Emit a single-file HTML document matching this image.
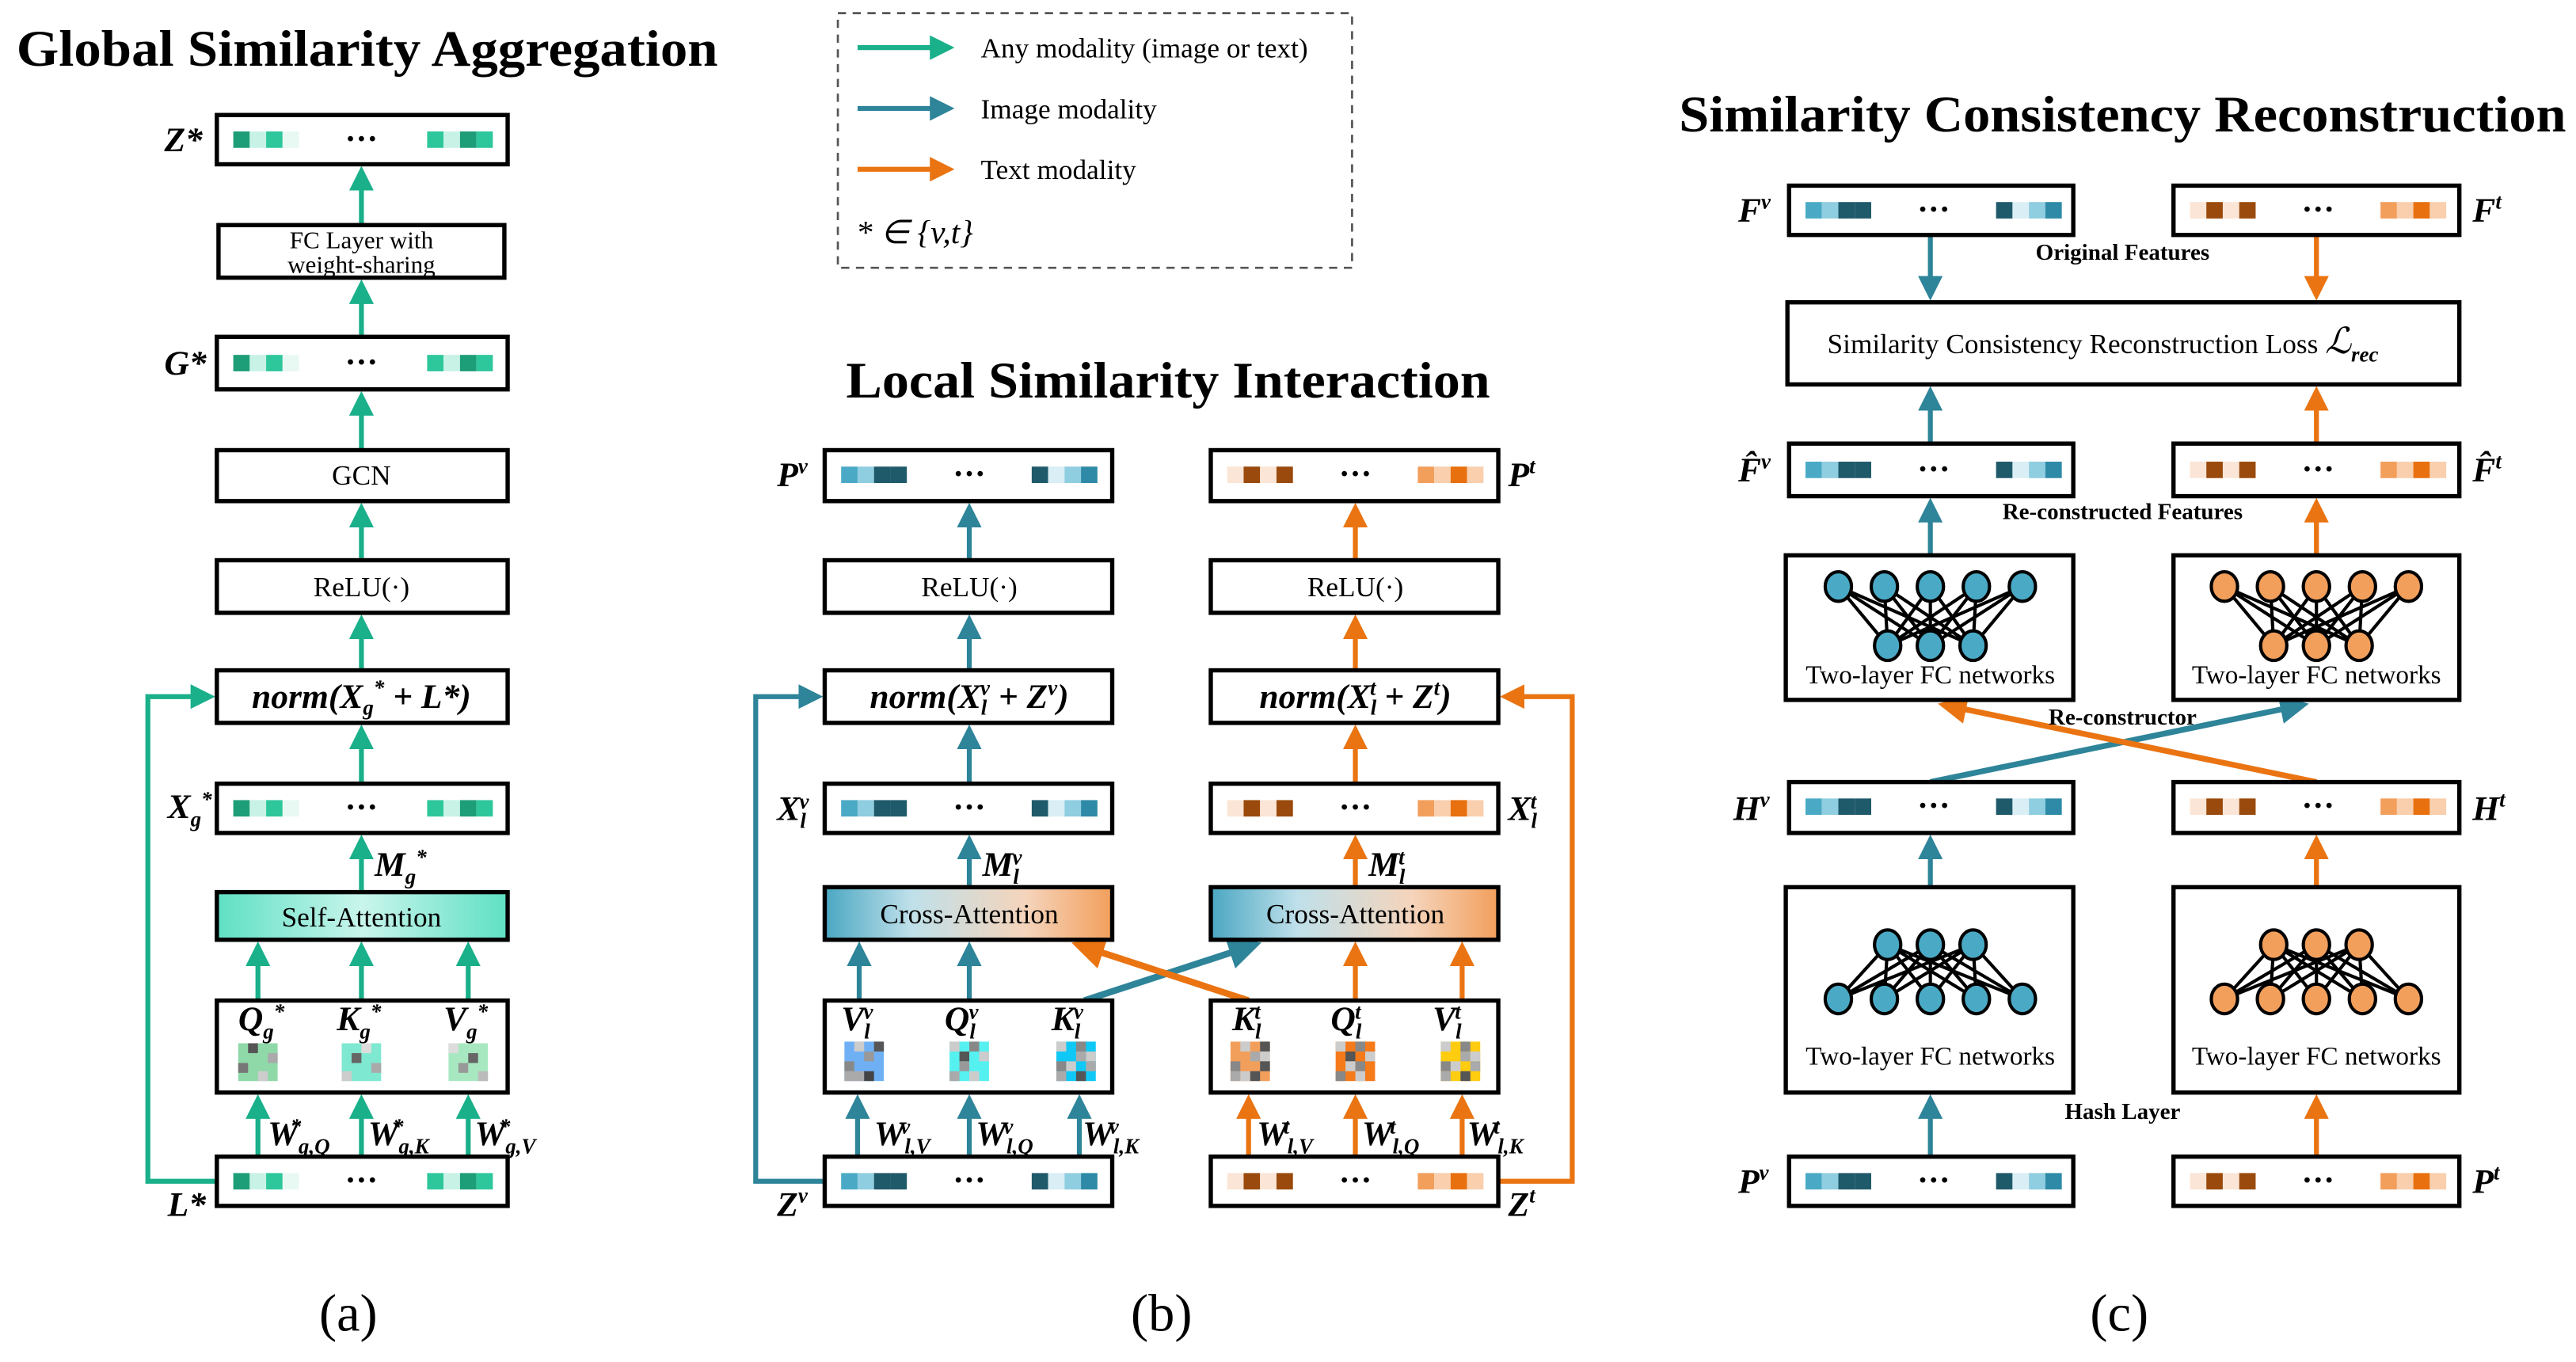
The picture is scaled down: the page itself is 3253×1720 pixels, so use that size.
<!DOCTYPE html>
<html><head><meta charset="utf-8"><style>
html,body{margin:0;padding:0;background:#fff}
svg{display:block}
text{font-family:"Liberation Serif",serif}
.b{fill:#fff;stroke:#000;stroke-width:2.6}
.t{font-size:17px;text-anchor:middle}
.m{font-size:21px;font-weight:bold;font-style:italic}
.s{font-size:13px;font-weight:bold;font-style:italic}
.h{font-size:31px;font-weight:bold}
.c{font-size:32px;text-anchor:middle}
.lb{font-size:14px;font-weight:bold;text-anchor:middle}
.dots{font-size:20px;text-anchor:middle;font-weight:bold}
</style></head><body>
<svg width="3253" height="1720" viewBox="0 0 1568 829" preserveAspectRatio="none" xmlns="http://www.w3.org/2000/svg">
<defs>
<marker id="ag" markerWidth="5" markerHeight="5" refX="4" refY="2.5" orient="auto" markerUnits="strokeWidth"><path d="M0,0 L5,2.5 L0,5 z" fill="#19b08a"/></marker>
<marker id="ab" markerWidth="5" markerHeight="5" refX="4" refY="2.5" orient="auto" markerUnits="strokeWidth"><path d="M0,0 L5,2.5 L0,5 z" fill="#2e8499"/></marker>
<marker id="ao" markerWidth="5" markerHeight="5" refX="4" refY="2.5" orient="auto" markerUnits="strokeWidth"><path d="M0,0 L5,2.5 L0,5 z" fill="#ea7412"/></marker>
<g id="vt"><rect x="10" y="10" width="10" height="10" fill="#1e9e78"/><rect x="20" y="10" width="10" height="10" fill="#c8f2e6"/><rect x="30" y="10" width="10" height="10" fill="#2ec79c"/><rect x="40" y="10" width="10" height="10" fill="#e8f9f4"/><rect x="128" y="10" width="10" height="10" fill="#2ec79c"/><rect x="138" y="10" width="10" height="10" fill="#c8f2e6"/><rect x="148" y="10" width="10" height="10" fill="#1e9e78"/><rect x="158" y="10" width="10" height="10" fill="#2ec79c"/><text x="88" y="21" class="dots">···</text></g>
<g id="vb"><rect x="10" y="10" width="10" height="10" fill="#4aaac6"/><rect x="20" y="10" width="10" height="10" fill="#8fcde0"/><rect x="30" y="10" width="10" height="10" fill="#1f5a6b"/><rect x="40" y="10" width="10" height="10" fill="#1f5a6b"/><rect x="126" y="10" width="10" height="10" fill="#1f5a6b"/><rect x="136" y="10" width="10" height="10" fill="#d9eef5"/><rect x="146" y="10" width="10" height="10" fill="#8fcde0"/><rect x="156" y="10" width="10" height="10" fill="#2e8aa6"/><text x="88" y="21" class="dots">···</text></g>
<g id="vo"><rect x="10" y="10" width="10" height="10" fill="#fbe5d6"/><rect x="20" y="10" width="10" height="10" fill="#9a4a0c"/><rect x="30" y="10" width="10" height="10" fill="#fbe5d6"/><rect x="40" y="10" width="10" height="10" fill="#9a4a0c"/><rect x="126" y="10" width="10" height="10" fill="#f29f5c"/><rect x="136" y="10" width="10" height="10" fill="#f9cfad"/><rect x="146" y="10" width="10" height="10" fill="#e8700f"/><rect x="156" y="10" width="10" height="10" fill="#f9cfad"/><text x="88" y="21" class="dots">···</text></g>
<linearGradient id="sa" x1="0" x2="1"><stop offset="0" stop-color="#5fe0c4"/><stop offset="0.5" stop-color="#c9f5ec"/><stop offset="1" stop-color="#5fe0c4"/></linearGradient>
<linearGradient id="ca" x1="0" x2="1"><stop offset="0" stop-color="#4aa7c2"/><stop offset="0.3" stop-color="#bfe0ea"/><stop offset="0.7" stop-color="#f5d4bb"/><stop offset="1" stop-color="#f29f5c"/></linearGradient>
</defs>

<!-- ===== Panel (a) ===== -->
<text x="10" y="40" class="h" textLength="427" lengthAdjust="spacingAndGlyphs">Global Similarity Aggregation</text>
<g stroke="#19b08a" stroke-width="3" fill="none">
<line x1="220" y1="137" x2="220" y2="104" marker-end="url(#ag)"/>
<line x1="220" y1="205" x2="220" y2="173" marker-end="url(#ag)"/>
<line x1="220" y1="274" x2="220" y2="241" marker-end="url(#ag)"/>
<line x1="220" y1="341" x2="220" y2="309" marker-end="url(#ag)"/>
<line x1="220" y1="408" x2="220" y2="377" marker-end="url(#ag)"/>
<line x1="220" y1="477" x2="220" y2="444" marker-end="url(#ag)"/>
<line x1="220" y1="543" x2="220" y2="511" marker-end="url(#ag)"/>
<line x1="157" y1="609" x2="157" y2="576" marker-end="url(#ag)"/>
<line x1="220" y1="609" x2="220" y2="576" marker-end="url(#ag)"/>
<line x1="285" y1="609" x2="285" y2="576" marker-end="url(#ag)"/>
<line x1="157" y1="704" x2="157" y2="669" marker-end="url(#ag)"/>
<line x1="220" y1="704" x2="220" y2="669" marker-end="url(#ag)"/>
<line x1="285" y1="704" x2="285" y2="669" marker-end="url(#ag)"/>
<polyline points="132,719 90,719 90,424 128,424" marker-end="url(#ag)"/>
</g>
<rect class="b" x="132" y="70" width="177" height="30"/><use href="#vt" x="132" y="70"/>
<rect class="b" x="133" y="137" width="174" height="32"/>
<text x="220" y="151" class="t" style="font-size:15px">FC Layer with</text><text x="220" y="166" class="t" style="font-size:15px">weight-sharing</text>
<rect class="b" x="132" y="205" width="177" height="32"/><use href="#vt" x="132" y="206"/>
<rect class="b" x="132" y="274" width="177" height="31"/><text x="220" y="295" class="t">GCN</text>
<rect class="b" x="132" y="341" width="177" height="32"/><text x="220" y="363" class="t">ReLU(·)</text>
<rect class="b" x="132" y="408" width="177" height="32"/><text x="220" y="431" class="m" text-anchor="middle">norm(X<tspan class="s" dy="4">g</tspan><tspan class="s" dy="-12">*</tspan><tspan dy="8"> + L*)</tspan></text>
<rect class="b" x="132" y="477" width="177" height="30"/><use href="#vt" x="132" y="477"/>
<rect x="132" y="543" width="177" height="29" fill="url(#sa)" stroke="#000" stroke-width="2.6"/><text x="220" y="564" class="t">Self-Attention</text>
<rect class="b" x="132" y="609" width="177" height="56"/>
<text x="145" y="627" class="m">Q<tspan class="s" dy="5">g</tspan><tspan class="s" dy="-12">*</tspan></text>
<text x="205" y="627" class="m">K<tspan class="s" dy="5">g</tspan><tspan class="s" dy="-12">*</tspan></text>
<text x="270" y="627" class="m">V<tspan class="s" dy="5">g</tspan><tspan class="s" dy="-12">*</tspan></text>
<g transform="translate(145,635)"><rect width="24" height="23" fill="#8fd8a8"/><rect x="6" width="6" height="6" fill="#555"/><rect x="18" y="6" width="6" height="6" fill="#aaa"/><rect y="12" width="6" height="6" fill="#777"/><rect x="12" y="17" width="6" height="6" fill="#ccc"/></g>
<g transform="translate(208,635)"><rect width="24" height="23" fill="#7fe8d0"/><rect x="12" width="6" height="6" fill="#ddd"/><rect x="6" y="6" width="6" height="6" fill="#666"/><rect x="18" y="12" width="6" height="6" fill="#aaa"/><rect y="17" width="6" height="6" fill="#ccc"/></g>
<g transform="translate(273,635)"><rect width="24" height="23" fill="#a8e8c0"/><rect width="6" height="6" fill="#ddd"/><rect x="12" y="6" width="6" height="6" fill="#666"/><rect x="6" y="12" width="6" height="6" fill="#999"/><rect x="18" y="17" width="6" height="6" fill="#bbb"/></g>
<rect class="b" x="132" y="704" width="177" height="30"/><use href="#vt" x="132" y="704"/>
<text x="100" y="92" class="m">Z*</text>
<text x="100" y="228" class="m">G*</text>
<text x="102" y="498" class="m">X<tspan class="s" dy="5">g</tspan><tspan class="s" dy="-12">*</tspan></text>
<text x="228" y="533" class="m">M<tspan class="s" dy="5">g</tspan><tspan class="s" dy="-12">*</tspan></text>
<text x="163" y="697" class="m">W<tspan class="s" dy="5">g,Q</tspan><tspan class="s" dy="-12" dx="-24">*</tspan></text>
<text x="224" y="697" class="m">W<tspan class="s" dy="5">g,K</tspan><tspan class="s" dy="-12" dx="-22">*</tspan></text>
<text x="289" y="697" class="m">W<tspan class="s" dy="5">g,V</tspan><tspan class="s" dy="-12" dx="-22">*</tspan></text>
<text x="102" y="740" class="m">L*</text>
<text x="212" y="810" class="c">(a)</text>

<!-- ===== Legend ===== -->
<rect x="510" y="8" width="313" height="155" fill="#fff" stroke="#555" stroke-width="1.3" stroke-dasharray="5,4"/>
<line x1="522" y1="29" x2="578" y2="29" stroke="#19b08a" stroke-width="3" marker-end="url(#ag)"/>
<line x1="522" y1="66" x2="578" y2="66" stroke="#2e8499" stroke-width="3" marker-end="url(#ab)"/>
<line x1="522" y1="103" x2="578" y2="103" stroke="#ea7412" stroke-width="3" marker-end="url(#ao)"/>
<text x="597" y="35" style="font-size:17px">Any modality (image or text)</text>
<text x="597" y="72" style="font-size:17px">Image modality</text>
<text x="597" y="109" style="font-size:17px">Text modality</text>
<text x="521" y="148" style="font-size:20px;font-style:italic">* ∈ {v,t}</text>

<!-- ===== Panel (b) ===== -->
<text x="515" y="242" class="h" textLength="392" lengthAdjust="spacingAndGlyphs">Local Similarity Interaction</text>
<g stroke="#2e8499" stroke-width="3" fill="none">
<line x1="590" y1="341" x2="590" y2="309" marker-end="url(#ab)"/>
<line x1="590" y1="408" x2="590" y2="377" marker-end="url(#ab)"/>
<line x1="590" y1="477" x2="590" y2="444" marker-end="url(#ab)"/>
<line x1="590" y1="540" x2="590" y2="511" marker-end="url(#ab)"/>
<line x1="523" y1="609" x2="523" y2="576" marker-end="url(#ab)"/>
<line x1="590" y1="609" x2="590" y2="576" marker-end="url(#ab)"/>
<line x1="522" y1="704" x2="522" y2="669" marker-end="url(#ab)"/>
<line x1="590" y1="704" x2="590" y2="669" marker-end="url(#ab)"/>
<line x1="657" y1="704" x2="657" y2="669" marker-end="url(#ab)"/>
<line x1="660" y1="609" x2="764" y2="575" stroke-width="4" marker-end="url(#ab)"/>
<polyline points="502,719 460,719 460,424 498,424" marker-end="url(#ab)"/>
</g>
<g stroke="#ea7412" stroke-width="3" fill="none">
<line x1="825" y1="341" x2="825" y2="309" marker-end="url(#ao)"/>
<line x1="825" y1="408" x2="825" y2="377" marker-end="url(#ao)"/>
<line x1="825" y1="477" x2="825" y2="444" marker-end="url(#ao)"/>
<line x1="825" y1="540" x2="825" y2="511" marker-end="url(#ao)"/>
<line x1="825" y1="609" x2="825" y2="576" marker-end="url(#ao)"/>
<line x1="890" y1="609" x2="890" y2="576" marker-end="url(#ao)"/>
<line x1="760" y1="704" x2="760" y2="669" marker-end="url(#ao)"/>
<line x1="825" y1="704" x2="825" y2="669" marker-end="url(#ao)"/>
<line x1="890" y1="704" x2="890" y2="669" marker-end="url(#ao)"/>
<line x1="760" y1="609" x2="656" y2="575" stroke-width="4" marker-end="url(#ao)"/>
<polyline points="912,719 957,719 957,424 916,424" marker-end="url(#ao)"/>
</g>
<rect class="b" x="502" y="274" width="175" height="31"/><use href="#vb" x="502" y="274"/>
<rect class="b" x="737" y="274" width="175" height="31"/><use href="#vo" x="737" y="274"/>
<rect class="b" x="502" y="341" width="175" height="32"/><text x="590" y="363" class="t">ReLU(·)</text>
<rect class="b" x="737" y="341" width="175" height="32"/><text x="825" y="363" class="t">ReLU(·)</text>
<rect class="b" x="502" y="408" width="175" height="32"/><text x="590" y="431" class="m" text-anchor="middle">norm(X<tspan class="s" dy="4">l</tspan><tspan class="s" dy="-12" dx="-4">v</tspan><tspan dy="8"> + Z</tspan><tspan class="s" dy="-8">v</tspan><tspan dy="8">)</tspan></text>
<rect class="b" x="737" y="408" width="175" height="32"/><text x="825" y="431" class="m" text-anchor="middle">norm(X<tspan class="s" dy="4">l</tspan><tspan class="s" dy="-12" dx="-4">t</tspan><tspan dy="8"> + Z</tspan><tspan class="s" dy="-8">t</tspan><tspan dy="8">)</tspan></text>
<rect class="b" x="502" y="477" width="175" height="30"/><use href="#vb" x="502" y="477"/>
<rect class="b" x="737" y="477" width="175" height="30"/><use href="#vo" x="737" y="477"/>
<rect x="502" y="540" width="175" height="32" fill="url(#ca)" stroke="#000" stroke-width="2.6"/><text x="590" y="562" class="t">Cross-Attention</text>
<rect x="737" y="540" width="175" height="32" fill="url(#ca)" stroke="#000" stroke-width="2.6"/><text x="825" y="562" class="t">Cross-Attention</text>
<rect class="b" x="502" y="609" width="175" height="56"/>
<rect class="b" x="737" y="609" width="175" height="56"/>
<text x="512" y="627" class="m">V<tspan class="s" dy="5">l</tspan><tspan class="s" dy="-12" dx="-4">v</tspan></text>
<text x="575" y="627" class="m">Q<tspan class="s" dy="5">l</tspan><tspan class="s" dy="-12" dx="-4">v</tspan></text>
<text x="640" y="627" class="m">K<tspan class="s" dy="5">l</tspan><tspan class="s" dy="-12" dx="-4">v</tspan></text>
<text x="750" y="627" class="m">K<tspan class="s" dy="5">l</tspan><tspan class="s" dy="-12" dx="-4">t</tspan></text>
<text x="810" y="627" class="m">Q<tspan class="s" dy="5">l</tspan><tspan class="s" dy="-12" dx="-4">t</tspan></text>
<text x="872" y="627" class="m">V<tspan class="s" dy="5">l</tspan><tspan class="s" dy="-12" dx="-4">t</tspan></text>
<g transform="translate(514,634)"><rect width="24" height="24" fill="#6fb0f5"/><rect x="6" width="6" height="6" fill="#ccc"/><rect x="18" width="6" height="6" fill="#555"/><rect x="12" y="6" width="6" height="6" fill="#999"/><rect y="12" width="6" height="6" fill="#888"/><rect y="18" width="12" height="6" fill="#aaa"/><rect x="12" y="18" width="6" height="6" fill="#444"/></g>
<g transform="translate(578,634)"><rect width="24" height="24" fill="#55f0f0"/><rect width="6" height="6" fill="#ccc"/><rect x="12" width="6" height="6" fill="#888"/><rect x="6" y="6" width="6" height="6" fill="#555"/><rect x="18" y="6" width="6" height="6" fill="#ccc"/><rect x="6" y="12" width="6" height="6" fill="#999"/><rect y="18" width="6" height="6" fill="#aaa"/><rect x="12" y="18" width="6" height="6" fill="#ccc"/></g>
<g transform="translate(643,634)"><rect width="24" height="24" fill="#10c8f5"/><rect width="6" height="6" fill="#ccc"/><rect x="12" width="6" height="6" fill="#888"/><rect x="18" y="6" width="6" height="6" fill="#ccc"/><rect x="12" y="6" width="6" height="6" fill="#aaa"/><rect y="12" width="6" height="6" fill="#888"/><rect x="6" y="12" width="6" height="6" fill="#ccc"/><rect x="18" y="12" width="6" height="6" fill="#aaa"/><rect y="18" width="6" height="6" fill="#aaa"/><rect x="12" y="18" width="6" height="6" fill="#555"/></g>
<g transform="translate(749,634)"><rect width="24" height="24" fill="#f29f5c"/><rect x="6" width="6" height="6" fill="#ccc"/><rect x="18" width="6" height="6" fill="#555"/><rect x="12" y="6" width="6" height="6" fill="#aaa"/><rect x="18" y="6" width="6" height="6" fill="#ccc"/><rect y="12" width="6" height="6" fill="#888"/><rect x="18" y="12" width="6" height="6" fill="#555"/><rect y="18" width="6" height="6" fill="#aaa"/><rect x="6" y="18" width="6" height="6" fill="#ccc"/><rect x="12" y="18" width="6" height="6" fill="#555"/></g>
<g transform="translate(813,634)"><rect width="24" height="24" fill="#f57a1a"/><rect width="6" height="6" fill="#ccc"/><rect x="12" width="6" height="6" fill="#888"/><rect x="6" y="6" width="6" height="6" fill="#555"/><rect x="18" y="6" width="6" height="6" fill="#ccc"/><rect x="6" y="12" width="6" height="6" fill="#ccc"/><rect x="12" y="12" width="6" height="6" fill="#888"/><rect y="18" width="6" height="6" fill="#888"/><rect x="12" y="18" width="6" height="6" fill="#ccc"/></g>
<g transform="translate(877,634)"><rect width="24" height="24" fill="#ffcc10"/><rect width="6" height="6" fill="#ccc"/><rect x="12" width="6" height="6" fill="#888"/><rect x="12" y="6" width="6" height="6" fill="#aaa"/><rect x="18" y="6" width="6" height="6" fill="#ccc"/><rect y="12" width="6" height="6" fill="#888"/><rect x="6" y="12" width="6" height="6" fill="#ccc"/><rect x="18" y="12" width="6" height="6" fill="#aaa"/><rect y="18" width="6" height="6" fill="#aaa"/><rect x="12" y="18" width="6" height="6" fill="#555"/></g>
<rect class="b" x="502" y="704" width="175" height="30"/><use href="#vb" x="502" y="704"/>
<rect class="b" x="737" y="704" width="175" height="30"/><use href="#vo" x="737" y="704"/>
<text x="473" y="296" class="m">P<tspan class="s" dy="-8">v</tspan></text>
<text x="918" y="296" class="m">P<tspan class="s" dy="-8">t</tspan></text>
<text x="473" y="499" class="m">X<tspan class="s" dy="5">l</tspan><tspan class="s" dy="-12" dx="-4">v</tspan></text>
<text x="918" y="499" class="m">X<tspan class="s" dy="5">l</tspan><tspan class="s" dy="-12" dx="-4">t</tspan></text>
<text x="598" y="533" class="m">M<tspan class="s" dy="5">l</tspan><tspan class="s" dy="-12" dx="-4">v</tspan></text>
<text x="833" y="533" class="m">M<tspan class="s" dy="5">l</tspan><tspan class="s" dy="-12" dx="-4">t</tspan></text>
<text x="532" y="697" class="m">W<tspan class="s" dy="5">l,V</tspan><tspan class="s" dy="-12" dx="-18">v</tspan></text>
<text x="594" y="697" class="m">W<tspan class="s" dy="5">l,Q</tspan><tspan class="s" dy="-12" dx="-18">v</tspan></text>
<text x="659" y="697" class="m">W<tspan class="s" dy="5">l,K</tspan><tspan class="s" dy="-12" dx="-18">v</tspan></text>
<text x="765" y="697" class="m">W<tspan class="s" dy="5">l,V</tspan><tspan class="s" dy="-12" dx="-18">t</tspan></text>
<text x="829" y="697" class="m">W<tspan class="s" dy="5">l,Q</tspan><tspan class="s" dy="-12" dx="-18">t</tspan></text>
<text x="893" y="697" class="m">W<tspan class="s" dy="5">l,K</tspan><tspan class="s" dy="-12" dx="-18">t</tspan></text>
<text x="473" y="740" class="m">Z<tspan class="s" dy="-8">v</tspan></text>
<text x="918" y="740" class="m">Z<tspan class="s" dy="-8">t</tspan></text>
<text x="707" y="810" class="c">(b)</text>

<!-- ===== Panel (c) ===== -->
<text x="1022" y="80" class="h" textLength="540" lengthAdjust="spacingAndGlyphs">Similarity Consistency Reconstruction</text>
<g stroke="#2e8499" stroke-width="3" fill="none">
<line x1="1175" y1="143" x2="1175" y2="180" marker-end="url(#ab)"/>
<line x1="1175" y1="270" x2="1175" y2="238" marker-end="url(#ab)"/>
<line x1="1175" y1="338" x2="1175" y2="306" marker-end="url(#ab)"/>
<line x1="1175" y1="540" x2="1175" y2="511" marker-end="url(#ab)"/>
<line x1="1175" y1="704" x2="1175" y2="669" marker-end="url(#ab)"/>
<line x1="1175" y1="476" x2="1402" y2="429" stroke-width="3.5" marker-end="url(#ab)"/>
</g>
<g stroke="#ea7412" stroke-width="3" fill="none">
<line x1="1410" y1="143" x2="1410" y2="180" marker-end="url(#ao)"/>
<line x1="1410" y1="270" x2="1410" y2="238" marker-end="url(#ao)"/>
<line x1="1410" y1="338" x2="1410" y2="306" marker-end="url(#ao)"/>
<line x1="1410" y1="540" x2="1410" y2="511" marker-end="url(#ao)"/>
<line x1="1410" y1="704" x2="1410" y2="669" marker-end="url(#ao)"/>
<line x1="1410" y1="476" x2="1183" y2="429" stroke-width="3.5" marker-end="url(#ao)"/>
</g>
<rect class="b" x="1089" y="113" width="173" height="30"/><use href="#vb" x="1089" y="113"/>
<rect class="b" x="1323" y="113" width="174" height="30"/><use href="#vo" x="1323" y="113"/>
<text x="1292" y="158" class="lb">Original Features</text>
<rect class="b" x="1088" y="184" width="409" height="50"/>
<text x="1280" y="215" style="font-size:17px" text-anchor="middle">Similarity Consistency Reconstruction Loss  <tspan style="font-size:22px;font-style:italic">ℒ</tspan><tspan class="s" dy="5">rec</tspan></text>
<rect class="b" x="1089" y="270" width="173" height="32"/><use href="#vb" x="1089" y="271"/>
<rect class="b" x="1323" y="270" width="174" height="32"/><use href="#vo" x="1323" y="271"/>
<text x="1292" y="316" class="lb">Re-constructed Features</text>
<rect class="b" x="1087" y="338" width="175" height="88"/>
<rect class="b" x="1323" y="338" width="174" height="88"/>
<text x="1175" y="416" class="t" style="font-size:16px">Two-layer FC networks</text>
<text x="1410" y="416" class="t" style="font-size:16px">Two-layer FC networks</text>
<text x="1292" y="441" class="lb">Re-constructor</text>
<rect class="b" x="1089" y="476" width="173" height="31"/><use href="#vb" x="1089" y="476"/>
<rect class="b" x="1323" y="476" width="174" height="31"/><use href="#vo" x="1323" y="476"/>
<rect class="b" x="1087" y="540" width="175" height="125"/>
<rect class="b" x="1323" y="540" width="174" height="125"/>
<text x="1175" y="648" class="t" style="font-size:16px">Two-layer FC networks</text>
<text x="1410" y="648" class="t" style="font-size:16px">Two-layer FC networks</text>
<text x="1292" y="681" class="lb">Hash Layer</text>
<rect class="b" x="1089" y="704" width="173" height="30"/><use href="#vb" x="1089" y="704"/>
<rect class="b" x="1323" y="704" width="174" height="30"/><use href="#vo" x="1323" y="704"/>
<g stroke="#000" stroke-width="2">
<path d="M1119,357 L1149,393 M1119,357 L1175,393 M1119,357 L1201,393 M1147,357 L1149,393 M1147,357 L1175,393 M1147,357 L1201,393 M1175,357 L1149,393 M1175,357 L1175,393 M1175,357 L1201,393 M1203,357 L1149,393 M1203,357 L1175,393 M1203,357 L1201,393 M1231,357 L1149,393 M1231,357 L1175,393 M1231,357 L1201,393"/>
<path d="M1354,357 L1384,393 M1354,357 L1410,393 M1354,357 L1436,393 M1382,357 L1384,393 M1382,357 L1410,393 M1382,357 L1436,393 M1410,357 L1384,393 M1410,357 L1410,393 M1410,357 L1436,393 M1438,357 L1384,393 M1438,357 L1410,393 M1438,357 L1436,393 M1466,357 L1384,393 M1466,357 L1410,393 M1466,357 L1436,393"/>
<path d="M1119,608 L1149,575 M1119,608 L1175,575 M1119,608 L1201,575 M1147,608 L1149,575 M1147,608 L1175,575 M1147,608 L1201,575 M1175,608 L1149,575 M1175,608 L1175,575 M1175,608 L1201,575 M1203,608 L1149,575 M1203,608 L1175,575 M1203,608 L1201,575 M1231,608 L1149,575 M1231,608 L1175,575 M1231,608 L1201,575"/>
<path d="M1354,608 L1384,575 M1354,608 L1410,575 M1354,608 L1436,575 M1382,608 L1384,575 M1382,608 L1410,575 M1382,608 L1436,575 M1410,608 L1384,575 M1410,608 L1410,575 M1410,608 L1436,575 M1438,608 L1384,575 M1438,608 L1410,575 M1438,608 L1436,575 M1466,608 L1384,575 M1466,608 L1410,575 M1466,608 L1436,575"/>
</g>
<g stroke="#000" stroke-width="2" fill="#4aaac6">
<ellipse cx="1119" cy="357" rx="8" ry="9"/><ellipse cx="1147" cy="357" rx="8" ry="9"/><ellipse cx="1175" cy="357" rx="8" ry="9"/><ellipse cx="1203" cy="357" rx="8" ry="9"/><ellipse cx="1231" cy="357" rx="8" ry="9"/>
<ellipse cx="1149" cy="393" rx="8" ry="9"/><ellipse cx="1175" cy="393" rx="8" ry="9"/><ellipse cx="1201" cy="393" rx="8" ry="9"/>
<ellipse cx="1149" cy="575" rx="8" ry="9"/><ellipse cx="1175" cy="575" rx="8" ry="9"/><ellipse cx="1201" cy="575" rx="8" ry="9"/>
<ellipse cx="1119" cy="608" rx="8" ry="9"/><ellipse cx="1147" cy="608" rx="8" ry="9"/><ellipse cx="1175" cy="608" rx="8" ry="9"/><ellipse cx="1203" cy="608" rx="8" ry="9"/><ellipse cx="1231" cy="608" rx="8" ry="9"/>
</g>
<g stroke="#000" stroke-width="2" fill="#f29f5c">
<ellipse cx="1354" cy="357" rx="8" ry="9"/><ellipse cx="1382" cy="357" rx="8" ry="9"/><ellipse cx="1410" cy="357" rx="8" ry="9"/><ellipse cx="1438" cy="357" rx="8" ry="9"/><ellipse cx="1466" cy="357" rx="8" ry="9"/>
<ellipse cx="1384" cy="393" rx="8" ry="9"/><ellipse cx="1410" cy="393" rx="8" ry="9"/><ellipse cx="1436" cy="393" rx="8" ry="9"/>
<ellipse cx="1384" cy="575" rx="8" ry="9"/><ellipse cx="1410" cy="575" rx="8" ry="9"/><ellipse cx="1436" cy="575" rx="8" ry="9"/>
<ellipse cx="1354" cy="608" rx="8" ry="9"/><ellipse cx="1382" cy="608" rx="8" ry="9"/><ellipse cx="1410" cy="608" rx="8" ry="9"/><ellipse cx="1438" cy="608" rx="8" ry="9"/><ellipse cx="1466" cy="608" rx="8" ry="9"/>
</g>
<text x="1058" y="135" class="m">F<tspan class="s" dy="-8">v</tspan></text>
<text x="1505" y="135" class="m">F<tspan class="s" dy="-8">t</tspan></text>
<text x="1058" y="293" class="m">F̂<tspan class="s" dy="-8">v</tspan></text>
<text x="1505" y="293" class="m">F̂<tspan class="s" dy="-8">t</tspan></text>
<text x="1055" y="499" class="m">H<tspan class="s" dy="-8">v</tspan></text>
<text x="1505" y="499" class="m">H<tspan class="s" dy="-8">t</tspan></text>
<text x="1058" y="726" class="m">P<tspan class="s" dy="-8">v</tspan></text>
<text x="1505" y="726" class="m">P<tspan class="s" dy="-8">t</tspan></text>
<text x="1290" y="810" class="c">(c)</text>
</svg>
</body></html>
